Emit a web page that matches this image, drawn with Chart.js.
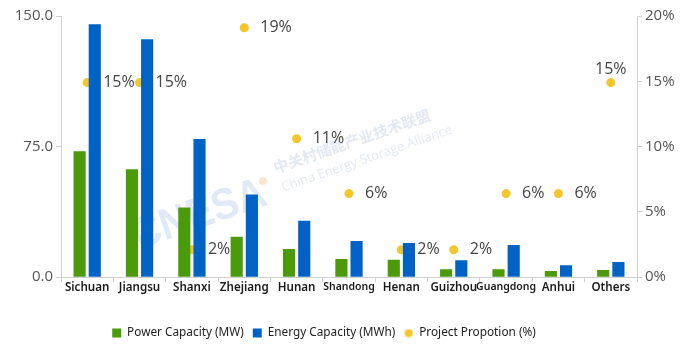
<!DOCTYPE html>
<html>
<head>
<meta charset="utf-8">
<script src="https://cdn.jsdelivr.net/npm/chart.js@4"></script>
<style>
html,body{margin:0;padding:0;background:#fff;}
canvas{display:block;}
</style>
</head>
<body>
<canvas id="c" width="692" height="357"></canvas>
<script>
const categories = ['Sichuan','Jiangsu','Shanxi','Zhejiang','Hunan','Shandong','Henan','Guizhou','Guangdong','Anhui','Others'];
const powerCapacity = [72.4, 62.0, 40.0, 23.2, 16.2, 10.4, 10.0, 4.6, 4.6, 3.5, 4.2];
const energyCapacity = [145.3, 136.7, 79.3, 47.5, 32.4, 20.8, 19.7, 9.8, 18.5, 6.9, 8.7];
const projectProportion = [14.9, 14.9, 2.1, 19.1, 10.6, 6.4, 2.1, 2.1, 6.4, 6.4, 14.9];
const leftTicks = [0, 75, 150];
const rightTicks = [0, 5, 10, 15, 20];

const GREEN = '#4A9A0A', BLUE = '#0062C4', YELLOW = '#F5C62A';

// small circle image for legend
const dot = document.createElement('canvas');
dot.width = 9; dot.height = 9;
(function(){ const g = dot.getContext('2d'); g.fillStyle = YELLOW; g.beginPath(); g.arc(4.5,4.5,4,0,Math.PI*2); g.fill(); })();

const watermark = {
  id: 'watermark',
  beforeDatasetsDraw(chart) {
    const ctx = chart.ctx;
    const ang = -19 * Math.PI / 180;
    ctx.save();
    ctx.translate(134, 238); ctx.rotate(ang); ctx.scale(0.9, 1);
    ctx.fillStyle = 'rgba(100,145,205,0.2)';
    ctx.font = 'bold 44px "Liberation Sans"';
    ctx.fillText('CNESA', 0, 0);
    ctx.restore();
    ctx.save();
    ctx.translate(263, 181);
    ctx.fillStyle = 'rgba(240,160,80,0.28)';
    ctx.beginPath(); ctx.arc(0, 0, 4, 0, Math.PI * 2); ctx.fill();
    ctx.restore();
    ctx.save();
    ctx.translate(274, 168); ctx.rotate(ang);
    ctx.fillStyle = 'rgba(110,140,190,0.2)';
    ctx.font = 'bold 15px "Noto Sans CJK SC"';
    ctx.fillText('中关村储能产业技术联盟', 0, 0);
    ctx.restore();
    ctx.save();
    ctx.translate(282, 188); ctx.rotate(ang);
    ctx.fillStyle = 'rgba(110,140,190,0.2)';
    ctx.font = '13px "Open Sans"';
    ctx.fillText('China Energy Storage Alliance', 0, 0);
    ctx.restore();
  }
};

const pointLabels = {
  id: 'pointLabels',
  afterDatasetsDraw(chart) {
    const ctx = chart.ctx;
    const meta = chart.getDatasetMeta(2);
    ctx.save();
    ctx.font = '16px "Open Sans"';
    ctx.fillStyle = '#444';
    meta.data.forEach((pt, i) => {
      const txt = Math.round(projectProportion[i]) + '%';
      if (i === meta.data.length - 1) {
        ctx.textAlign = 'center';
        ctx.textBaseline = 'bottom';
        ctx.fillText(txt, pt.x, pt.y - 5);
      } else {
        ctx.textAlign = 'left';
        ctx.textBaseline = 'middle';
        ctx.fillText(txt, pt.x + 16, pt.y);
      }
    });
    ctx.restore();
  }
};

const legendShift = {
  id: 'legendShift',
  afterLayout(chart) {
    if (chart.legend) { chart.legend.left -= 22; chart.legend.right -= 22; }
  }
};

new Chart(document.getElementById('c'), {
  type: 'bar',
  data: {
    labels: categories,
    datasets: [
      { label: 'Power Capacity (MW)', data: powerCapacity, backgroundColor: GREEN, yAxisID: 'y',
        categoryPercentage: 0.58, barPercentage: 0.8 },
      { label: 'Energy Capacity (MWh)', data: energyCapacity, backgroundColor: BLUE, yAxisID: 'y',
        categoryPercentage: 0.58, barPercentage: 0.8 },
      { type: 'line', label: 'Project Propotion (%)', data: projectProportion, yAxisID: 'y1',
        showLine: false, pointRadius: 4.5, pointHoverRadius: 4.5, pointBackgroundColor: YELLOW,
        pointBorderColor: YELLOW, pointBorderWidth: 0, backgroundColor: YELLOW, borderColor: YELLOW }
    ]
  },
  options: {
    responsive: false,
    animation: false,
    devicePixelRatio: 1,
    layout: { padding: { top: 16, left: 0, right: 0, bottom: 8 } },
    plugins: {
      tooltip: { enabled: false },
      legend: {
        position: 'bottom',
        labels: {
          usePointStyle: true,
          boxWidth: 9, boxHeight: 9,
          padding: 9,
          color: '#222',
          font: { family: '"Noto Sans"', size: 11.8 },
          generateLabels: (chart) => chart.data.datasets.map((ds, i) => ({
            text: ds.label,
            fillStyle: ds.backgroundColor,
            strokeStyle: ds.backgroundColor,
            lineWidth: 0,
            pointStyle: i === 2 ? dot : 'rect',
            fontColor: '#222',
            hidden: false,
            datasetIndex: i
          }))
        }
      }
    },
    scales: {
      x: {
        offset: true,
        afterFit: (s) => { s.height = 41; },
        grid: { display: true, drawOnChartArea: false, drawTicks: true, tickLength: 5, color: '#d0d0d0', offset: true },
        border: { display: true, color: '#d0d0d0' },
        ticks: {
          color: '#1a1a1a',
          padding: -1,
          maxRotation: 0, autoSkip: false,
          font: (ctx) => {
            const l = categories[ctx.index];
            const small = (l === 'Shandong' || l === 'Guangdong');
            return { family: '"Noto Sans"', size: small ? 10.5 : 11.6, weight: '600' };
          }
        }
      },
      y: {
        position: 'left',
        min: 0, max: 150,
        afterBuildTicks: (s) => { s.ticks = leftTicks.map(v => ({ value: v })); },
        afterFit: (s) => { s.width = 61; },
        grid: { display: true, drawOnChartArea: false, drawTicks: true, tickLength: 5, color: '#d0d0d0' },
        border: { display: true, color: '#d0d0d0' },
        ticks: { color: '#555', padding: 3, font: { family: '"Open Sans"', size: 15 }, callback: (v) => Number(v).toFixed(1) }
      },
      y1: {
        position: 'right',
        min: 0, max: 20,
        afterBuildTicks: (s) => { s.ticks = rightTicks.map(v => ({ value: v })); },
        afterFit: (s) => { s.width = 55; },
        grid: { display: true, drawOnChartArea: false, drawTicks: true, tickLength: 5, color: '#d0d0d0' },
        border: { display: true, color: '#d0d0d0' },
        ticks: { color: '#555', padding: 3, font: { family: '"Open Sans"', size: 15 }, callback: (v) => v + '%' }
      }
    }
  },
  plugins: [watermark, pointLabels, legendShift]
});
</script>
</body>
</html>
